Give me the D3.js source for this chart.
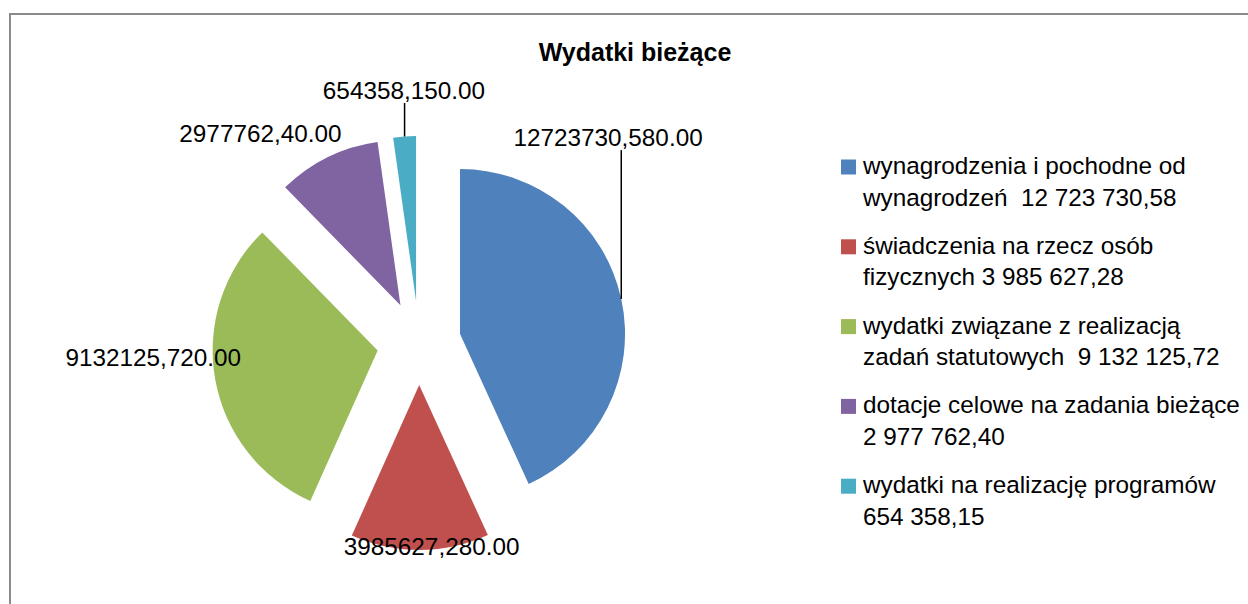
<!DOCTYPE html>
<html>
<head>
<meta charset="utf-8">
<script src="https://cdn.jsdelivr.net/npm/d3@7/dist/d3.min.js"></script>
<style>
  body { margin: 0; background: #fff; }
  text { font-family: "Liberation Sans", Arial, sans-serif; fill: #000; }
</style>
</head>
<body>
<div id="main"></div>
<script>
///////////
// DATA  //
///////////

const title = "Wydatki bieżące"
const categories = [
  "wynagrodzenia i pochodne od wynagrodzeń",
  "świadczenia na rzecz osób fizycznych",
  "wydatki związane z realizacją zadań statutowych",
  "dotacje celowe na zadania bieżące",
  "wydatki na realizację programów"
]
const values = [12723730.58, 3985627.28, 9132125.72, 2977762.40, 654358.15]
const dataLabels = ["12723730,580.00", "3985627,280.00", "9132125,720.00", "2977762,40.00", "654358,150.00"]
const legendLines = [
  ["wynagrodzenia i pochodne od", "wynagrodzeń  12 723 730,58"],
  ["świadczenia na rzecz osób", "fizycznych 3 985 627,28"],
  ["wydatki związane z realizacją", "zadań statutowych  9 132 125,72"],
  ["dotacje celowe na zadania bieżące", "2 977 762,40"],
  ["wydatki na realizację programów", "654 358,15"]
]

///////////
// SETUP //
///////////

const width = 1248
const height = 604

const colors = ['#4f81bd', '#c0504d', '#9bbb59', '#8064a2', '#4bacc6']
const color = d3.scaleOrdinal().domain(categories).range(colors)

const cx = 419, cy = 343
const radius = 165
const explode = 42
const fontSize = 24.3

// best-fit label spots: [angle in deg from 12 o'clock, distance from slice centre]
const labelPlace = [[37.0, 246], [175.6, 162], [268.2, 224.5], [320.8, 221.6], [356.7, 211]]

const pie = d3.pie().sort(null).value(d => d.value)
const arc = d3.arc().innerRadius(0).outerRadius(radius)

const rows = categories.map((c, i) => ({ key: c, value: values[i], label: dataLabels[i], lines: legendLines[i] }))
const slices = pie(rows)

function shift(d) {
  const mid = (d.startAngle + d.endAngle) / 2
  return [Math.sin(mid) * explode, -Math.cos(mid) * explode]
}

//////////
// DRAW //
//////////

const svg = d3.select("#main").append("svg")
  .attr("width", width)
  .attr("height", height)

svg.append("rect")
  .attr("x", 10).attr("y", 14)
  .attr("width", width + 20).attr("height", height + 20)
  .attr("fill", "#fff")
  .attr("stroke", "#8a8a8a")
  .attr("stroke-width", 2)

svg.append("text")
  .attr("x", 635).attr("y", 61)
  .attr("text-anchor", "middle")
  .attr("font-weight", "bold")
  .attr("font-size", 25)
  .text(title)

const g = svg.append("g").attr("transform", `translate(${cx},${cy})`)

g.selectAll("path.slice")
  .data(slices)
  .enter().append("path")
    .attr("class", "slice")
    .attr("transform", d => `translate(${shift(d)})`)
    .attr("d", arc)
    .attr("fill", d => color(d.data.key))

// data labels
const labels = g.selectAll("g.label")
  .data(slices)
  .enter().append("g")
    .attr("class", "label")

labels.each(function(d, i) {
  const [sx, sy] = shift(d)
  const a = labelPlace[i][0] * Math.PI / 180
  const lx = sx + Math.sin(a) * labelPlace[i][1]
  const ly = sy - Math.cos(a) * labelPlace[i][1]
  const t = d3.select(this).append("text")
    .attr("x", lx).attr("y", ly)
    .attr("dy", "0.35em")
    .attr("text-anchor", "middle")
    .attr("font-size", fontSize)
    .text(d.data.label)

  // leader line from arc middle to the label when it sits far away
  const box = t.node().getBBox()
  const mid = (d.startAngle + d.endAngle) / 2
  const px = sx + Math.sin(mid) * radius
  const py = sy - Math.cos(mid) * radius
  const bottom = box.y + box.height - 1
  if (px > box.x && px < box.x + box.width && py - bottom > 20) {
    d3.select(this).insert("line", "text")
      .attr("x1", px).attr("y1", py)
      .attr("x2", px).attr("y2", bottom)
      .attr("stroke", "#000")
      .attr("stroke-width", 1.5)
  }
})

// legend
const legend = svg.append("g").attr("transform", "translate(841,174)")
const item = legend.selectAll("g.item")
  .data(rows)
  .enter().append("g")
    .attr("class", "item")
    .attr("transform", (d, i) => `translate(0,${i * 79.8})`)

item.append("rect")
  .attr("x", 0).attr("y", -14.5)
  .attr("width", 15).attr("height", 15)
  .attr("fill", d => color(d.key))

item.append("text")
  .attr("font-size", fontSize)
  .style("white-space", "pre")
  .selectAll("tspan")
  .data(d => d.lines)
  .enter().append("tspan")
    .attr("x", 22)
    .attr("y", (d, i) => i * 31.5)
    .text(d => d)
</script>
</body>
</html>
